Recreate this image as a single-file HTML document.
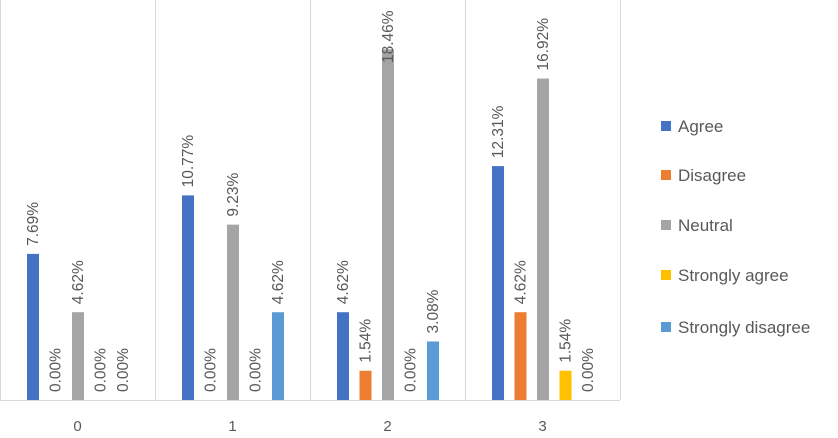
<!DOCTYPE html>
<html><head><meta charset="utf-8"><style>
body{margin:0;background:#fff;font-family:"Liberation Sans",sans-serif}
</style></head><body>
<svg id="chart" width="838" height="433" xmlns="http://www.w3.org/2000/svg"></svg>
<script>
const categories=["0","1","2","3"];
const seriesNames=["Agree","Disagree","Neutral","Strongly agree","Strongly disagree"];
const agree=[7.69,10.77,4.62,12.31];
const disagree=[0,0,1.54,4.62];
const neutral=[4.62,9.23,18.46,16.92];
const stronglyAgree=[0,0,0,1.54];
const stronglyDisagree=[0,4.62,3.08,0];
const colors=["#4472C4","#ED7D31","#A5A5A5","#FFC000","#5B9BD5"];
const series=[agree,disagree,neutral,stronglyAgree,stronglyDisagree];
const NS="http://www.w3.org/2000/svg";
const svg=document.getElementById('chart');
const x0=0,catW=155,base=400,pxPer=19;
const y=v=>base-v*pxPer;
const bx=(c,s)=>x0+c*catW+27+s*22.5;
function mk(t,a){const e=document.createElementNS(NS,t);for(const k in a)e.setAttribute(k,a[k]);svg.appendChild(e);return e;}
for(let i=0;i<=categories.length;i++){
  const l=mk('line',{x1:x0+i*catW+0.5,x2:x0+i*catW+0.5,y1:0,y2:base,stroke:'#d9d9d9'});
  
  
}
const ax=mk('line',{x1:x0,x2:x0+catW*categories.length,y1:base+0.5,y2:base+0.5,stroke:'#d9d9d9'});


categories.forEach((c,ci)=>{
  const t=mk('text',{x:x0+ci*catW+catW/2,y:431,'text-anchor':'middle','font-size':15,fill:'#595959'});
  t.textContent=c;
  
  
  series.forEach((s,si)=>{
    const v=s[ci],x=bx(ci,si);
    if(v>0){
      const r=mk('rect',{x:x,y:y(v),width:12,height:base-y(v),fill:colors[si]});
      
      
    }
    const ty=Math.max(y(v)-8,63),tx=x+11;
    const lab=mk('text',{x:tx,y:ty,transform:`rotate(-90 ${tx} ${ty})`,'font-size':15.5,fill:'#595959'});
    lab.textContent=v.toFixed(2)+'%';
    
    
  });
});
seriesNames.forEach((n,i)=>{
  const yy=[126,175,225,275,327][i];
  const r=mk('rect',{x:661,y:yy-5,width:10,height:10,fill:colors[i]});
  
  
  const t=mk('text',{x:678,y:yy+6,'font-size':17,fill:'#595959'});
  t.textContent=n;
  
  
});
</script>
</body></html>
